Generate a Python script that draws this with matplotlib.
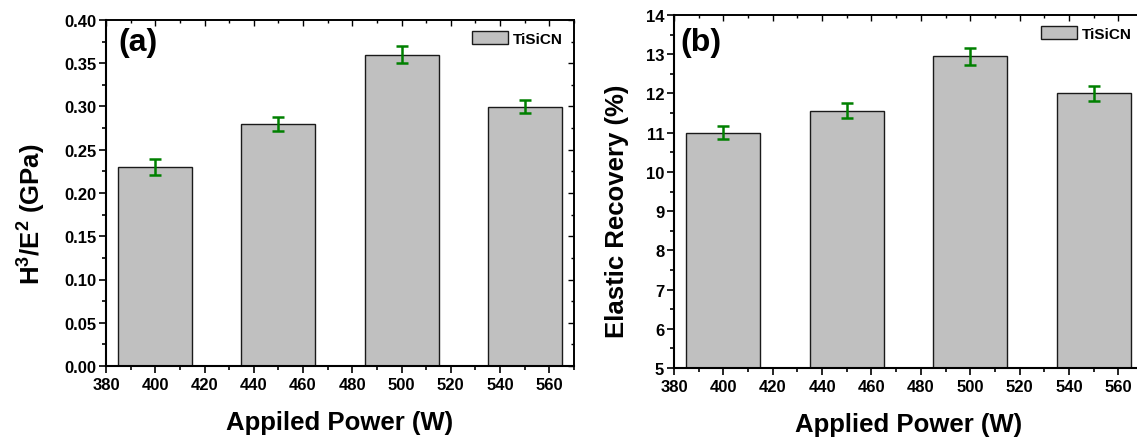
import matplotlib
matplotlib.use("Agg")
import matplotlib.pyplot as plt
from matplotlib.ticker import MultipleLocator, FormatStrFormatter

plt.rcParams['font.family'] = ['Liberation Sans', 'DejaVu Sans']
plt.rcParams['font.weight'] = 'bold'
plt.rcParams['mathtext.fontset'] = 'custom'
plt.rcParams['mathtext.rm'] = 'Liberation Sans:bold'
plt.rcParams['mathtext.bf'] = 'Liberation Sans:bold'
plt.rcParams['mathtext.default'] = 'bf'

power = [400, 450, 500, 550]
h3e2 = [0.23, 0.28, 0.36, 0.30]
h3e2_err = [0.009, 0.008, 0.010, 0.007]
recovery = [11.0, 11.56, 12.95, 12.0]
recovery_err = [0.16, 0.19, 0.22, 0.20]
legend_label = "TiSiCN"

W, H = 1137, 439
fig = plt.figure(figsize=(W / 100, H / 100), dpi=100)

def px_axes(l, r, t, b):
    return [l / W, 1 - b / H, (r - l) / W, (b - t) / H]

axa = fig.add_axes(px_axes(106, 574, 21, 367))
axb = fig.add_axes(px_axes(674, 1143, 16, 369))

def style(ax, ylim, ymaj, ymin_, show_right):
    ax.set_xlim(380, 570)
    ax.set_ylim(*ylim)
    ax.xaxis.set_major_locator(MultipleLocator(20))
    ax.xaxis.set_minor_locator(MultipleLocator(10))
    ax.yaxis.set_major_locator(MultipleLocator(ymaj))
    ax.yaxis.set_minor_locator(MultipleLocator(ymin_))
    ax.tick_params(which='both', direction='out', bottom=True, left=True,
                   top=False, right=False, width=1.2, labelsize=12)
    ax.tick_params(which='major', length=5)
    ax.tick_params(which='minor', length=3)
    ax.tick_params(axis='y', pad=2)
    ax.tick_params(axis='x', pad=3)
    for s in ['left', 'bottom']:
        ax.spines[s].set_linewidth(1.5)
    ax.spines['top'].set_linewidth(1.2)
    sec_x = ax.secondary_xaxis('top')
    sec_x.xaxis.set_major_locator(MultipleLocator(20))
    sec_x.xaxis.set_minor_locator(MultipleLocator(10))
    sec_x.tick_params(which='both', direction='in', labeltop=False, width=1)
    sec_x.tick_params(which='major', length=4)
    sec_x.tick_params(which='minor', length=2)
    sec_x.spines['top'].set_linewidth(1.2)
    if show_right:
        ax.spines['right'].set_linewidth(1.2)
        sec_y = ax.secondary_yaxis('right')
        sec_y.yaxis.set_major_locator(MultipleLocator(ymaj))
        sec_y.yaxis.set_minor_locator(MultipleLocator(ymin_))
        sec_y.tick_params(which='both', direction='in', labelright=False, width=1)
        sec_y.tick_params(which='major', length=4)
        sec_y.tick_params(which='minor', length=2)
        sec_y.spines['right'].set_linewidth(1.2)
    else:
        ax.spines['right'].set_visible(False)

for ax, vals, errs, ylim, ymaj, ymn, show_right in [
        (axa, h3e2, h3e2_err, (0, 0.40), 0.05, 0.025, True),
        (axb, recovery, recovery_err, (5, 14), 1, 0.5, False)]:
    bottom = ylim[0]
    heights = [v - bottom for v in vals]
    ax.bar(power, heights, width=30, bottom=bottom, color='#c0c0c0',
           edgecolor='#1a1a1a', linewidth=1.0, label=legend_label, zorder=2)
    ax.errorbar(power, vals, yerr=errs, fmt='none', ecolor='#008000',
                elinewidth=1.8, capsize=4, capthick=1.8, zorder=3)
    style(ax, ylim, ymaj, ymn, show_right)
    ax.legend(loc='upper right', frameon=False,
              handlelength=2.35, handleheight=0.85, handletextpad=0.3,
              borderaxespad=0.35, prop={'weight': 'bold', 'size': 11})

axa.yaxis.set_major_formatter(FormatStrFormatter('%.2f'))

axa.text(0.026, 0.98, "(a)", transform=axa.transAxes, fontsize=23,
         fontweight='bold', va='top', ha='left')
axb.text(0.013, 0.965, "(b)", transform=axb.transAxes, fontsize=23,
         fontweight='bold', va='top', ha='left')

axa.set_xlabel("Appiled Power (W)", fontsize=18.5, fontweight='bold', labelpad=13)
axb.set_xlabel("Applied Power (W)", fontsize=18.5, fontweight='bold', labelpad=13)
axa.set_ylabel("H$^{3}$/E$^{2}$ (GPa)", fontsize=18.5, fontweight='bold')
axb.set_ylabel("Elastic Recovery (%)", fontsize=18.5, fontweight='bold')
axa.yaxis.set_label_coords(-0.124, 0.44)
axb.yaxis.set_label_coords(-0.096, 0.448)

fig.savefig("out.png", dpi=100)
